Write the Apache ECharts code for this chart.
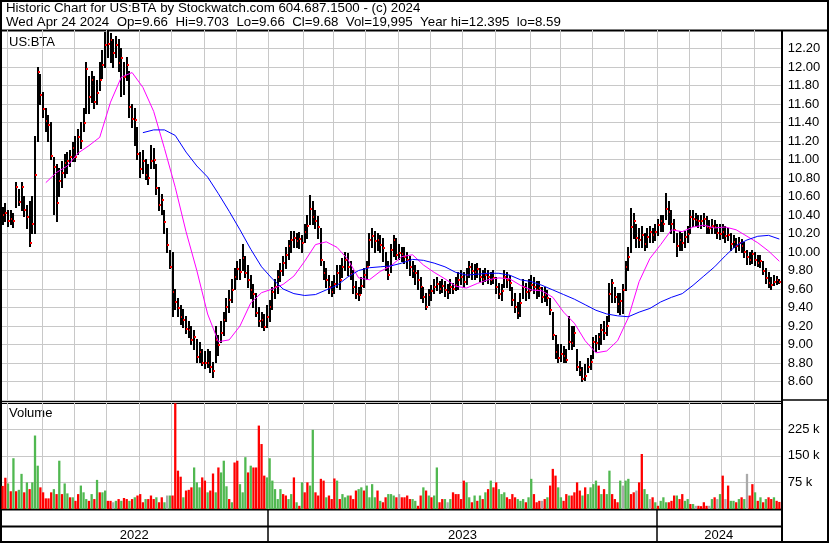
<!DOCTYPE html>
<html><head><meta charset="utf-8"><title>US:BTA</title>
<script src="https://cdn.jsdelivr.net/npm/echarts@6.0.0/dist/echarts.min.js"></script>
<style>html,body{margin:0;padding:0;background:#fff;overflow:hidden}#chart{width:830px;height:543px}</style>
</head><body><div id="chart"></div>
<script>
// ---------- data ----------
const months = ['2022-04','2022-05','2022-06','2022-07','2022-08','2022-09','2022-10','2022-11','2022-12',
  '2023-01','2023-02','2023-03','2023-04','2023-05','2023-06','2023-07','2023-08','2023-09','2023-10','2023-11','2023-12',
  '2024-01','2024-02','2024-03','2024-04'];
const barsPerMonth = [2,13,12,12,12,12,12,12,12, 13,11,12,12,12,12,12,13,11,12,12,12, 12,12,12,10];

const closes = [10.40,10.42,10.33,10.36,10.33,10.70,10.54,10.70,10.45,10.38,
10.10,10.30,10.83,11.95,11.70,11.55,11.42,11.37,11.04,10.92,
10.53,10.77,10.85,10.96,10.98,11.03,11.12,11.03,11.24,11.20,
11.40,11.98,11.68,11.86,11.62,11.72,11.86,12.02,12.24,12.25,
12.29,12.15,12.24,12.04,12.10,11.89,12.02,11.57,11.44,11.43,
11.06,10.90,10.98,10.83,10.80,10.98,11.00,10.69,10.51,10.56,
10.32,10.08,9.84,9.57,9.46,9.40,9.30,9.26,9.17,9.16,
9.05,9.08,8.87,8.92,8.80,8.80,8.80,8.76,8.71,9.05,
9.00,9.12,9.26,9.41,9.48,9.59,9.73,9.82,9.78,9.94,
9.77,9.70,9.59,9.55,9.34,9.25,9.26,9.19,9.30,9.41,
9.57,9.62,9.73,9.79,9.88,9.97,10.06,10.13,10.15,10.12,
10.14,10.10,10.22,10.28,10.47,10.38,10.33,10.27,9.91,9.77,
9.70,9.62,9.57,9.65,9.77,9.70,9.84,9.91,9.84,9.76,
9.62,9.55,9.53,9.63,9.75,9.84,10.13,10.17,10.12,10.13,
10.08,10.04,9.84,9.75,10.02,10.13,9.97,9.99,9.98,9.95,
9.91,9.84,9.80,9.77,9.70,9.62,9.51,9.41,9.53,9.58,
9.62,9.65,9.60,9.63,9.59,9.57,9.62,9.60,9.64,9.70,
9.73,9.68,9.75,9.84,9.80,9.78,9.82,9.73,9.71,9.75,
9.73,9.70,9.72,9.62,9.55,9.58,9.73,9.70,9.66,9.48,
9.41,9.34,9.45,9.62,9.57,9.58,9.64,9.62,9.59,9.61,
9.51,9.53,9.50,9.37,9.10,8.92,8.85,8.90,8.88,8.83,
9.03,9.02,9.12,8.76,8.72,8.63,8.66,8.76,8.81,9.03,
9.02,9.08,9.16,9.12,9.20,9.55,9.66,9.51,9.44,9.47,
9.59,9.84,9.95,10.27,10.34,10.15,10.13,10.18,10.09,10.16,
10.22,10.18,10.22,10.29,10.33,10.30,10.47,10.43,10.30,10.24,
10.06,10.13,10.10,10.16,10.20,10.38,10.36,10.35,10.34,10.33,
10.36,10.27,10.26,10.28,10.27,10.21,10.20,10.22,10.17,10.18,
10.09,10.11,10.06,10.10,10.07,10.00,9.95,9.91,9.98,9.91,
9.88,9.90,9.80,9.72,9.66,9.64,9.68,9.70,9.68];

const highs = [10.48,10.52,10.45,10.45,10.42,10.75,10.68,10.75,10.60,10.50,
10.55,10.60,11.25,12.00,11.92,11.72,11.55,11.48,11.40,11.02,
10.95,10.90,10.98,11.05,11.08,11.10,11.18,11.25,11.32,11.40,
11.55,12.05,11.90,11.95,11.90,11.85,12.05,12.18,12.37,12.39,
12.36,12.30,12.33,12.30,12.20,12.05,12.10,11.95,11.60,11.55,
11.35,11.08,11.10,11.00,10.95,11.15,11.12,10.95,10.70,10.62,
10.45,10.25,10.02,10.00,9.60,9.50,9.42,9.38,9.30,9.25,
9.20,9.15,9.05,9.02,8.95,8.92,8.95,8.92,8.80,9.20,
9.10,9.25,9.35,9.50,9.58,9.70,9.82,9.90,9.92,10.08,
9.95,9.85,9.75,9.65,9.55,9.40,9.35,9.32,9.42,9.48,
9.62,9.70,9.80,9.88,9.95,10.05,10.12,10.22,10.22,10.20,
10.21,10.18,10.30,10.40,10.61,10.55,10.45,10.38,10.25,9.90,
9.82,9.75,9.68,9.75,9.85,9.85,9.93,10.00,9.98,9.90,
9.80,9.68,9.62,9.72,9.82,9.90,10.20,10.25,10.22,10.20,
10.18,10.15,10.00,9.90,10.08,10.18,10.15,10.08,10.05,10.05,
10.00,9.95,9.90,9.85,9.80,9.72,9.62,9.55,9.60,9.64,
9.70,9.72,9.68,9.70,9.68,9.65,9.70,9.66,9.72,9.78,
9.80,9.78,9.82,9.90,9.88,9.86,9.88,9.82,9.80,9.82,
9.80,9.78,9.80,9.72,9.66,9.65,9.80,9.78,9.75,9.62,
9.55,9.45,9.55,9.70,9.66,9.70,9.75,9.72,9.68,9.68,
9.62,9.62,9.58,9.50,9.35,9.10,9.00,9.00,8.98,8.95,
9.30,9.20,9.20,8.95,8.82,8.75,8.78,8.85,8.88,9.08,
9.10,9.12,9.22,9.25,9.30,9.66,9.70,9.62,9.55,9.55,
9.65,9.90,10.05,10.47,10.42,10.30,10.25,10.28,10.20,10.25,
10.28,10.25,10.30,10.35,10.40,10.40,10.63,10.55,10.45,10.35,
10.20,10.22,10.20,10.22,10.28,10.45,10.45,10.42,10.40,10.40,
10.42,10.38,10.34,10.35,10.34,10.30,10.30,10.30,10.28,10.25,
10.20,10.18,10.15,10.16,10.14,10.10,10.02,10.00,10.02,10.00,
9.96,9.96,9.90,9.82,9.78,9.72,9.75,9.73,9.703];

const lows = [10.30,10.33,10.28,10.30,10.27,10.48,10.50,10.45,10.38,10.25,
10.06,10.20,10.20,11.20,11.60,11.45,11.30,11.20,11.00,10.40,
10.33,10.60,10.70,10.80,10.85,10.92,10.98,10.98,11.05,11.12,
11.30,11.50,11.50,11.62,11.55,11.60,11.75,11.88,12.00,12.10,
12.05,12.00,12.10,11.95,11.68,11.70,11.85,11.45,11.35,11.15,
11.00,10.80,10.85,10.78,10.73,10.90,10.90,10.62,10.45,10.40,
10.20,10.00,9.82,9.30,9.38,9.30,9.22,9.18,9.12,9.08,
9.00,8.95,8.80,8.80,8.77,8.74,8.75,8.70,8.64,8.80,
8.88,9.02,9.10,9.25,9.35,9.45,9.60,9.70,9.70,9.80,
9.72,9.62,9.50,9.40,9.30,9.20,9.18,9.15,9.18,9.25,
9.38,9.50,9.55,9.68,9.75,9.82,9.92,10.00,10.05,10.05,
10.04,10.00,10.10,10.15,10.30,10.30,10.25,10.15,9.85,9.70,
9.62,9.55,9.52,9.55,9.62,9.60,9.72,9.80,9.75,9.70,
9.55,9.50,9.48,9.55,9.62,9.70,9.85,10.05,10.00,10.02,
10.00,9.90,9.80,9.70,9.78,9.95,9.92,9.92,9.90,9.88,
9.82,9.75,9.72,9.65,9.60,9.50,9.45,9.38,9.42,9.48,
9.55,9.58,9.55,9.56,9.52,9.50,9.55,9.55,9.58,9.60,
9.65,9.62,9.65,9.72,9.70,9.70,9.72,9.68,9.65,9.68,
9.66,9.65,9.66,9.55,9.50,9.48,9.62,9.62,9.58,9.42,
9.35,9.28,9.30,9.50,9.48,9.50,9.58,9.55,9.50,9.52,
9.45,9.46,9.42,9.32,9.05,8.85,8.80,8.82,8.80,8.80,
8.95,8.95,8.98,8.72,8.66,8.60,8.61,8.70,8.73,8.85,
8.92,8.95,9.00,9.05,9.10,9.25,9.45,9.45,9.35,9.32,
9.34,9.58,9.80,10.00,10.15,10.05,10.05,10.05,10.02,10.05,
10.10,10.10,10.12,10.18,10.22,10.22,10.35,10.30,10.20,10.10,
9.95,10.02,10.02,10.05,10.10,10.20,10.28,10.28,10.26,10.25,
10.28,10.20,10.20,10.20,10.20,10.15,10.14,10.15,10.10,10.12,
10.02,10.05,10.00,10.02,10.00,9.94,9.86,9.86,9.88,9.85,
9.84,9.83,9.76,9.66,9.62,9.60,9.64,9.65,9.66];

// volume in thousands of shares
const volumesK = [65,88,72,50,143,50,54,99,47,75,
56,75,207,122,61,47,30,30,47,56,
42,136,42,72,44,33,33,23,42,66,
47,28,23,42,28,82,47,47,52,23,
23,19,23,28,23,31,28,23,28,33,
38,42,19,28,28,38,28,33,19,33,
19,38,38,38,298,108,91,33,52,54,
61,117,75,61,89,80,47,52,100,47,
117,103,136,64,28,19,131,136,70,47,
146,103,122,117,117,235,183,94,89,143,
80,56,28,56,42,38,28,42,89,19,
9,75,47,75,66,223,47,38,85,80,
33,38,28,86,80,28,42,33,38,38,
28,52,56,61,52,66,33,70,33,52,
23,19,33,42,42,38,33,42,33,33,
38,28,28,23,9,38,61,52,38,33,
38,117,19,28,28,19,28,47,42,42,
28,80,75,33,19,38,23,38,28,47,
56,80,61,75,56,42,47,33,28,42,
33,28,23,28,19,33,85,42,19,23,
23,28,33,66,113,94,61,33,23,42,
38,38,47,75,52,38,61,42,61,70,
80,66,42,56,42,108,42,28,19,80,
66,80,85,42,47,52,75,155,56,42,
28,33,19,9,23,33,19,19,23,38,
38,28,42,23,28,14,14,9,9,8,
19,9,9,28,33,28,42,94,28,66,
23,23,19,28,33,28,99,38,70,47,
23,33,19,28,33,28,33,23,20];

// r = down day, g = up day, n = unchanged
const volDir = ['rrgrgrggrg','rgggrrrrrg','rgrggrgrrg','ggrgrgrggr','rngrgrrgrg','rrrgrrrgrr','gngrrrrgrr',
'rgggrrgrrg','rgggrgrrgg','grgrrrrrgg','ggggrrggrg','rgrrggrrrr','grrrgrgggr','rrggrggggr','grrgggrnrr',
'rrggrrgrgr','ggrrgngrrr','rrggrgrgrg','rgrrgggrrr','rgggrggrrr','nrgrrrggrr','grrrrgrggg','grgrggrrrg',
'nggrrnrrgg','nrgrgggrrr','grrggrgnrr','rrngrngrnr','ggrgrgnrrg','rgrgrrgrr'].join('');

// moving averages, one reading every 4th bar
const maStep = 4;
const maFastStart = 16;
const maFast = [10.75,10.86,10.93,11.07,11.15,11.24,11.62,11.89,11.94,11.78,11.52,11.12,10.70,10.22,9.80,9.33,9.03,9.05,
9.20,9.45,9.56,9.60,9.65,9.74,9.90,10.08,10.11,10.05,9.92,9.72,9.70,9.79,9.85,9.95,9.97,9.86,9.78,9.71,9.63,9.61,
9.66,9.70,9.72,9.71,9.64,9.59,9.58,9.51,9.35,9.23,9.04,8.91,8.93,9.04,9.29,9.68,9.93,10.08,10.24,10.22,10.27,10.29,
10.26,10.27,10.24,10.17,10.10,10.01,9.90];
const maSlowStart = 52;
const maSlow = [11.29,11.32,11.32,11.26,11.08,10.93,10.81,10.63,10.44,10.24,10.03,9.84,9.71,9.60,9.55,9.53,9.54,9.59,
9.64,9.73,9.80,9.83,9.84,9.85,9.88,9.92,9.91,9.88,9.84,9.78,9.75,9.76,9.77,9.77,9.75,9.70,9.68,9.64,9.59,9.54,
9.49,9.43,9.37,9.33,9.31,9.30,9.35,9.39,9.46,9.51,9.55,9.64,9.74,9.84,9.96,10.07,10.13,10.17,10.18,10.14];

const headerLine1 = 'Historic Chart for US:BTA by Stockwatch.com 604.687.1500 - (c) 2024';
const headerLine2 = 'Wed Apr 24 2024  Op=9.66  Hi=9.703  Lo=9.66  Cl=9.68  Vol=19,995  Year hi=12.395  lo=8.59';
const symbolLabel = 'US:BTA';
const volumeLabel = 'Volume';

// ---------- build ----------
const FONT = "'Liberation Sans', Arial, sans-serif";
const GRID = '#c8c8c8';
const categories = [];
const monthStartIdx = [];
const yearStartIdx = [];
const yearRange = {};
months.forEach((m, mi) => {
  for (let k = 0; k < barsPerMonth[mi]; k++) {
    const idx = categories.length;
    if (k === 0 && mi > 0) {
      monthStartIdx.push(idx);
      if (m.slice(5) === '01') yearStartIdx.push(idx);
    }
    const y = m.slice(0, 4);
    if (!(y in yearRange)) yearRange[y] = [idx, idx]; else yearRange[y][1] = idx;
    categories.push(m + '-' + (k + 1));
  }
});

const priceData = closes.map((c, i) => [i, highs[i], lows[i], c]);
const dirColor = { r: '#ff0000', g: '#50b850', n: '#aaaaaa' };
const volData = volumesK.map((v, i) => ({ value: v * 1000, itemStyle: { color: dirColor[volDir[i]] } }));
const fastData = maFast.map((v, k) => [maFastStart + k * maStep, v]);
const slowData = maSlow.map((v, k) => [maSlowStart + k * maStep, v]);

function xAxisFor(g) {
  return {
    type: 'category', gridIndex: g, data: categories, boundaryGap: true,
    axisLine: { show: false }, axisTick: { show: false }, axisLabel: { show: false },
    splitLine: { show: false }
  };
}

// vertical month-boundary lines spanning a grid, drawn right under the bars
function renderMonthGrid(params, api) {
  const cs = params.coordSys;
  const bwid = api.size([1, 0])[0];
  const children = monthStartIdx.map((idx) => {
    const c = api.coord([idx, api.value(1)]);
    const x = Math.round(c[0] - bwid / 2);
    return { type: 'rect', shape: { x: x, y: cs.y, width: 1, height: cs.height }, style: { fill: GRID } };
  });
  return { type: 'group', children: children };
}

const chart = echarts.init(document.getElementById('chart'), null, { renderer: 'canvas', width: 830, height: 543 });

const gridBase = { left: 1.3, right: 49.3, containLabel: false, outerBoundsMode: 'none', show: false };
chart.setOption({
  animation: false,
  backgroundColor: '#ffffff',
  grid: [
    Object.assign({ top: 30, height: 370 }, gridBase),
    Object.assign({ top: 402.5, height: 106.5 }, gridBase),
    Object.assign({ top: 510, height: 33 }, gridBase)
  ],
  xAxis: [xAxisFor(0), xAxisFor(1), xAxisFor(2)],
  yAxis: [
    {
      type: 'value', gridIndex: 0, position: 'right', min: 8.4, max: 12.4, interval: 0.2,
      axisLine: { show: false }, axisTick: { show: false },
      axisLabel: { formatter: (v) => v.toFixed(2), showMinLabel: false, showMaxLabel: false, margin: 7,
        fontSize: 13, color: '#000', fontFamily: FONT },
      splitLine: { show: true, lineStyle: { color: GRID, width: 1 } }
    },
    {
      type: 'value', gridIndex: 1, position: 'right', min: 0, max: 300000, interval: 75000,
      axisLine: { show: false }, axisTick: { show: false },
      axisLabel: { formatter: (v) => (v / 1000) + ' k', showMinLabel: false, showMaxLabel: false, margin: 7,
        fontSize: 13, color: '#000', fontFamily: FONT },
      splitLine: { show: true, lineStyle: { color: GRID, width: 1 } }
    },
    { type: 'value', gridIndex: 2, show: false }
  ],
  series: [
    { type: 'custom', name: 'monthGridPrice', xAxisIndex: 0, yAxisIndex: 0, data: [[0, 10]],
      encode: { x: 0, y: 1 }, clip: false, z: 3, silent: true, renderItem: renderMonthGrid },
    { type: 'custom', name: 'monthGridVolume', xAxisIndex: 1, yAxisIndex: 1, data: [[0, 0]],
      encode: { x: 0, y: 1 }, clip: false, z: 3, silent: true, renderItem: renderMonthGrid },
    {
      type: 'custom', name: 'price', xAxisIndex: 0, yAxisIndex: 0, data: priceData,
      encode: { x: 0, y: [1, 2, 3] }, clip: true, z: 3,
      renderItem: function (params, api) {
        const i = api.value(0);
        const top = api.coord([i, api.value(1)]);
        const bot = api.coord([i, api.value(2)]);
        const cl = api.coord([i, api.value(3)]);
        const x = Math.round(top[0]);
        const y1 = Math.floor(top[1]);
        const y2 = Math.max(Math.ceil(bot[1]), y1 + 2);
        return {
          type: 'group', children: [
            { type: 'rect', shape: { x: x - 1, y: y1, width: 2, height: y2 - y1 }, style: { fill: '#000' } },
            { type: 'rect', shape: { x: x, y: Math.round(cl[1]) - 1, width: 2, height: 2 }, style: { fill: '#ff0000' } }
          ]
        };
      }
    },
    {
      type: 'line', name: 'MA fast', xAxisIndex: 0, yAxisIndex: 0, data: fastData, symbol: 'none', z: 5,
      lineStyle: { color: '#ff00ff', width: 1 }
    },
    {
      type: 'line', name: 'MA slow', xAxisIndex: 0, yAxisIndex: 0, data: slowData, symbol: 'none', z: 5,
      lineStyle: { color: '#0000ff', width: 1 }
    },
    {
      type: 'bar', name: 'Volume', xAxisIndex: 1, yAxisIndex: 1, data: volData,
      barCategoryGap: '15%', z: 3
    }
  ]
});

// decorations: year dividers, frame, texts (x positions taken from the category axis)
const px = (v) => chart.convertToPixel({ xAxisIndex: 0 }, v);
const bw = px(1) - px(0);
const ln = (x1, y1, x2, y2, w, c) => ({ type: 'line', silent: true, shape: { x1: x1, y1: y1, x2: x2, y2: y2 }, style: { stroke: c, lineWidth: w } });
const txt = (s, x, y, size, align) => ({ type: 'text', x: x, y: y, silent: true,
  style: { text: s, font: size + 'px ' + FONT, fill: '#000', align: align || 'left', verticalAlign: 'middle' } });

const frameEls = [];
yearStartIdx.forEach((idx) => {
  const x = Math.round(px(idx) - bw / 2);
  frameEls.push(ln(x, 510, x, 543, 1.5, '#000'));
});
Object.keys(yearRange).forEach((y) => {
  const r = yearRange[y];
  const x0 = yearStartIdx.indexOf(r[0]) >= 0 ? px(r[0]) - bw / 2 : 0;
  const x1 = px(r[1]) + bw / 2;
  frameEls.push(txt(y, (x0 + x1) / 2, 535, 13, 'center'));
});
frameEls.push(
  { type: 'rect', silent: true, shape: { x: 1, y: 1, width: 827, height: 541 }, style: { fill: 'none', stroke: '#000', lineWidth: 2 } },
  ln(0, 30.5, 829, 30.5, 2, '#000'),
  ln(782, 30, 782, 543, 2, '#000'),
  ln(0, 401.5, 782, 401.5, 1, '#000'),
  ln(0, 403.5, 782, 403.5, 1, '#000'),
  ln(782, 400, 829, 400, 1.5, '#000'),
  ln(0, 509.5, 782, 509.5, 2, '#000'),
  ln(0, 526.5, 782, 526.5, 2, '#000'),
  txt(headerLine1, 6, 8, 13.3),
  txt(headerLine2, 6, 22, 13.3),
  txt(symbolLabel, 9, 42, 13),
  txt(volumeLabel, 9, 413.5, 13)
);

chart.setOption({
  graphic: [ { type: 'group', id: 'frame', z: 20, silent: true, children: frameEls } ]
});
</script></body></html>
